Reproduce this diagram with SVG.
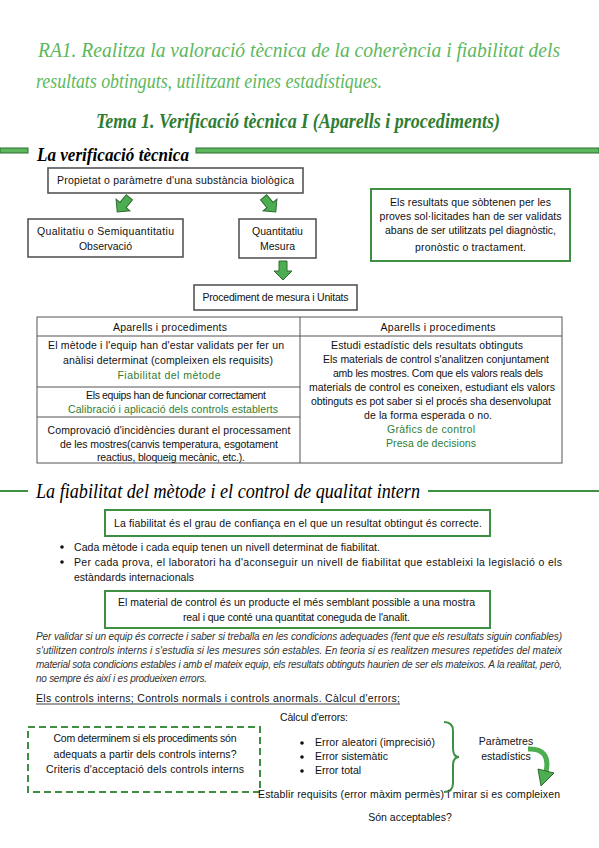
<svg xmlns="http://www.w3.org/2000/svg" width="599" height="848" viewBox="0 0 599 848">
<style>
.t{font-family:"Liberation Sans",Arial,sans-serif;font-size:10.5px;fill:#111}
.c{text-anchor:middle}
.g{fill:#2e7d32}
.box{fill:#fff;stroke:#555;stroke-width:1.6}
.gbox{fill:#fff;stroke:#3f8f43;stroke-width:2}
.tl{stroke:#555;stroke-width:1;fill:none}
.script{font-family:"Liberation Serif","Times New Roman",serif;font-style:italic}
.arrow{fill:#4cae50;stroke:#2e6b30;stroke-width:1}
.it{font-style:italic;fill:#333;font-size:10px}
</style>
<defs>
<polygon id="darr" points="-4,-10 4,-10 4,0 9,0 0,9 -9,0 -4,0"/>
</defs>
<rect width="599" height="848" fill="#fff"/>

<g id="title">
<text class="script" x="38" y="57" font-size="20" fill="#5cb85c" textLength="522" lengthAdjust="spacingAndGlyphs">RA1. Realitza la valoració tècnica de la coherència i fiabilitat dels</text>
<text class="script" x="36" y="88" font-size="20" fill="#5cb85c" textLength="346" lengthAdjust="spacingAndGlyphs">resultats obtinguts, utilitzant eines estadístiques.</text>
<text class="script" x="96" y="128" font-size="21" font-weight="bold" fill="#2e7d32" textLength="404" lengthAdjust="spacingAndGlyphs">Tema 1. Verificació tècnica I (Aparells i procediments)</text>
</g>

<g id="header1">
<rect x="0" y="148" width="28" height="5" fill="#5cb85c" stroke="#2e6b30" stroke-width="1"/>
<rect x="196" y="148" width="403" height="5" fill="#5cb85c" stroke="#2e6b30" stroke-width="1"/>
<text class="script" x="37" y="161" font-size="19" font-weight="bold" fill="#000" textLength="152" lengthAdjust="spacingAndGlyphs">La verificació tècnica</text>
</g>

<g id="connectors">
<use href="#darr" class="arrow" transform="translate(123,205) rotate(40)"/>
<use href="#darr" class="arrow" transform="translate(270,205) rotate(-40)"/>
<use href="#darr" class="arrow" transform="translate(283,271)"/>
</g>

<g id="propietat">
<rect class="box" x="48" y="168" width="255" height="25"/>
<text class="t c" x="175.5" y="184" textLength="237">Propietat o paràmetre d'una substància biològica</text>
</g>

<g id="qualitatiu">
<rect class="box" x="28" y="219" width="155" height="38"/>
<text class="t c" x="105.5" y="235" textLength="137">Qualitatiu o Semiquantitatiu</text>
<text class="t c" x="105.5" y="250">Observació</text>
</g>

<g id="quantitatiu">
<rect class="box" x="239" y="219" width="77" height="39"/>
<text class="t c" x="277.5" y="235">Quantitatiu</text>
<text class="t c" x="277.5" y="250">Mesura</text>
</g>

<g id="procediment">
<rect class="box" x="194" y="285" width="163" height="25"/>
<text class="t c" x="275.5" y="301" textLength="146">Procediment de mesura i Unitats</text>
</g>

<g id="resultats">
<rect class="gbox" x="371" y="189" width="199" height="72"/>
<text class="t c" x="470.5" y="206" textLength="161">Els resultats que sòbtenen per les</text>
<text class="t c" x="470.5" y="220" textLength="182">proves sol·licitades han de ser validats</text>
<text class="t c" x="470.5" y="234" textLength="171">abans de ser utilitzats pel diagnòstic,</text>
<text class="t c" x="470.5" y="251" textLength="111">pronòstic o tractament.</text>
</g>

<g id="taula">
<rect class="tl" x="37" y="317" width="525" height="146" stroke-width="1.3"/>
<line class="tl" x1="37" y1="336" x2="562" y2="336"/>
<line class="tl" x1="300" y1="317" x2="300" y2="463"/>
<line class="tl" x1="37" y1="387" x2="300" y2="387"/>
<line class="tl" x1="37" y1="417" x2="300" y2="417"/>
<text class="t c" x="170" y="331" textLength="114">Aparells i procediments</text>
<text class="t c" x="166" y="349" textLength="236">El mètode i l'equip han d'estar validats per fer un</text>
<text class="t c" x="168" y="364" textLength="210">anàlisi determinat (compleixen els requisits)</text>
<text class="t c g" x="169" y="379" textLength="103">Fiabilitat del mètode</text>
<text class="t c" x="176" y="399" textLength="180">Els equips han de funcionar correctament</text>
<text class="t c g" x="173" y="413" textLength="210">Calibració i aplicació dels controls establerts</text>
<text class="t c" x="169" y="434" textLength="243">Comprovació d'incidències durant el processament</text>
<text class="t c" x="169" y="448" textLength="218">de les mostres(canvis temperatura, esgotament</text>
<text class="t c" x="171" y="461" textLength="148">reactius, bloqueig mecànic, etc.).</text>
<text class="t c" x="438" y="331" textLength="115">Aparells i procediments</text>
<text class="t c" x="427" y="349" textLength="192">Estudi estadístic dels resultats obtinguts</text>
<text class="t c" x="436" y="363" textLength="226">Els materials de control s'analitzen conjuntament</text>
<text class="t c" x="438" y="377" textLength="210">amb les mostres. Com que els valors reals dels</text>
<text class="t c" x="432" y="391" textLength="246">materials de control es coneixen, estudiant els valors</text>
<text class="t c" x="431" y="405" textLength="240">obtinguts es pot saber si el procés sha desenvolupat</text>
<text class="t c" x="428" y="419" textLength="128">de la forma esperada o no.</text>
<text class="t c g" x="431" y="433" textLength="88">Gràfics de control</text>
<text class="t c g" x="431" y="447" textLength="90">Presa de decisions</text>
</g>

<g id="header2">
<line x1="0" y1="491" x2="28" y2="491" stroke="#3f8f43" stroke-width="2"/>
<line x1="428" y1="491" x2="599" y2="491" stroke="#3f8f43" stroke-width="2"/>
<text class="script" x="36" y="498" font-size="20" fill="#000" textLength="384" lengthAdjust="spacingAndGlyphs">La fiabilitat del mètode i el control de qualitat intern</text>
</g>

<g id="definicio">
<rect class="gbox" x="105" y="510" width="385" height="26"/>
<text class="t c" x="298" y="527" font-size="10" textLength="368">La fiabilitat és el grau de confiança en el que un resultat obtingut és correcte.</text>
</g>

<g id="bullets1">
<circle cx="62" cy="547" r="1.8" fill="#111"/>
<circle cx="62" cy="562" r="1.8" fill="#111"/>
<text class="t" x="74" y="551" font-size="10" textLength="306">Cada mètode i cada equip tenen un nivell determinat de fiabilitat.</text>
<text class="t" x="74" y="566" font-size="10" textLength="488">Per cada prova, el laboratori ha d'aconseguir un nivell de fiabilitat que estableixi la legislació o els</text>
<text class="t" x="74" y="581" font-size="10" textLength="120">estàndards internacionals</text>
</g>

<g id="material">
<rect class="gbox" x="105" y="591" width="385" height="37"/>
<text class="t c" x="296.5" y="606" font-size="10" textLength="357">El material de control és un producte el més semblant possible a una mostra</text>
<text class="t c" x="296.5" y="621" font-size="10" textLength="227">real i que conté una quantitat coneguda de l'analit.</text>
</g>

<g id="paragraf">
<text class="t it" x="36" y="640" textLength="526">Per validar si un equip és correcte i saber si treballa en les condicions adequades (fent que els resultats siguin confiables)</text>
<text class="t it" x="36" y="654" textLength="526">s'utilitzen controls interns i s'estudia si les mesures són estables. En teoria si es realitzen mesures repetides del mateix</text>
<text class="t it" x="36" y="668" textLength="526">material sota condicions estables i amb el mateix equip, els resultats obtinguts haurien de ser els mateixos. A la realitat, però,</text>
<text class="t it" x="36" y="682" textLength="171">no sempre és així i es produeixen errors.</text>
</g>

<g id="controls">
<text class="t" x="36" y="702" font-size="10" textLength="364">Els controls interns; Controls normals i controls anormals. Càlcul d'errors;</text>
<line x1="36" y1="704" x2="400" y2="704" stroke="#111" stroke-width="0.8"/>
</g>

<g id="criteris">
<rect x="28" y="727" width="232" height="65" fill="none" stroke="#3f8f43" stroke-width="2" stroke-dasharray="7,4"/>
<text class="t c" x="145" y="742" font-size="10" textLength="183">Com determinem si els procediments són</text>
<text class="t c" x="145" y="758" font-size="10" textLength="183">adequats a partir dels controls interns?</text>
<text class="t c" x="145" y="773" font-size="10" textLength="198">Criteris d'acceptació dels controls interns</text>
</g>

<g id="calcul">
<text class="t" x="280" y="721" font-size="10" textLength="68">Càlcul d'errors:</text>
<circle cx="302" cy="743" r="1.8" fill="#111"/>
<circle cx="302" cy="757" r="1.8" fill="#111"/>
<circle cx="302" cy="771" r="1.8" fill="#111"/>
<text class="t" x="315" y="746" font-size="10" textLength="120">Error aleatori (imprecisió)</text>
<text class="t" x="315" y="760" font-size="10">Error sistemàtic</text>
<text class="t" x="315" y="774" font-size="10">Error total</text>
<path d="M444,722 q9,0 9,9 v17 q0,9 6,9 q-6,0 -6,9 v17 q0,9 -9,9" fill="none" stroke="#3f8f43" stroke-width="2"/>
</g>

<g id="parametres">
<text class="t c" x="506" y="745" font-size="10">Paràmetres</text>
<text class="t c" x="506" y="760" font-size="10">estadístics</text>
</g>

<g id="corba">
<path d="M528,749 Q551,748 546,772" fill="none" stroke="#4cae50" stroke-width="5"/>
<polygon class="arrow" points="554,773 538,769 541,786"/>
</g>

<g id="requisits">
<text class="t" x="258" y="798" font-size="10" textLength="302">Establir requisits (error màxim permès) i mirar si es compleixen</text>
</g>

<g id="acceptables">
<text class="t c" x="410" y="821" font-size="10">Són acceptables?</text>
</g>
</svg>
